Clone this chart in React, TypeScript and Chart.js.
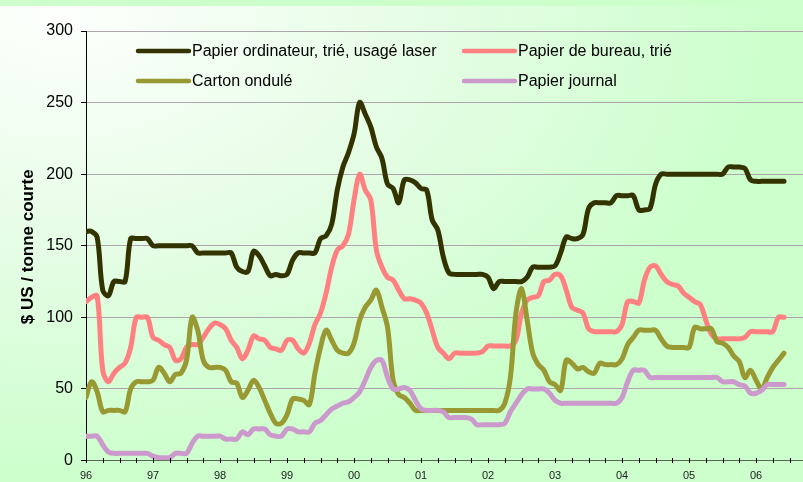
import React, { useEffect, useRef } from "react";
import { Chart, registerables } from "chart.js";

Chart.register(...registerables);

// Monthly values, Jan 1996 .. Jun 2006 (index = months since Jan 1996)
const papierOrdinateur = [
  160, 160, 156, 119, 115, 125, 125, 125, 155, 155,
  155, 155, 150, 150, 150, 150, 150, 150, 150, 150,
  145, 145, 145, 145, 145, 145, 145, 135, 132, 132,
  146, 143, 136, 129, 130, 129, 130, 140, 145, 145,
  145, 145, 155, 157, 165, 189, 205, 215, 228, 250,
  242, 233, 219, 211, 193, 190, 180, 196, 196, 194,
  190, 189, 168, 161, 142, 131, 130, 130, 130, 130,
  130, 130, 128, 120, 125, 125, 125, 125, 125, 128,
  135, 135, 135, 135, 136, 145, 156, 155, 155, 158,
  176, 180, 180, 180, 180, 185, 185, 185, 185, 175,
  175, 176, 193, 200, 200, 200, 200, 200, 200, 200,
  200, 200, 200, 200, 200, 205, 205, 205, 204, 196,
  195, 195, 195, 195, 195, 195,
];

const papierBureau = [
  111, 114, 115, 63, 55, 61, 65, 68, 79, 100,
  100, 100, 86, 84, 81, 79, 70, 71, 79, 81,
  81, 86, 92, 96, 95, 92, 84, 79, 71, 77,
  87, 85, 84, 79, 78, 77, 84, 84, 78, 75,
  82, 95, 103, 117, 135, 147, 150, 158, 182, 200,
  189, 182, 147, 135, 128, 126, 119, 113, 113, 112,
  110, 103, 91, 79, 75, 71, 75, 75, 75, 75,
  75, 76, 80, 80, 80, 80, 80, 84, 103, 112,
  114, 115, 125, 126, 130, 129, 119, 107, 105, 103,
  92, 90, 90, 90, 90, 90, 95, 111, 111, 110,
  126, 135, 136, 130, 125, 123, 122, 117, 114, 111,
  109, 98, 88, 85, 85, 85, 85, 85, 86, 90,
  90, 90, 90, 90, 100, 100,
];

const cartonOndule = [
  44, 55, 48, 34, 35, 35, 35, 34, 50, 55,
  55, 55, 56, 65, 61, 55, 60, 61, 70, 100,
  91, 70, 65, 65, 65, 63, 55, 54, 44, 49,
  56, 51, 42, 33, 26, 26, 32, 43, 43, 42,
  39, 61, 79, 91, 84, 77, 75, 75, 82, 98,
  107, 112, 119, 107, 93, 56, 46, 44, 40, 35,
  35, 35, 35, 35, 35, 35, 35, 35, 35, 35,
  35, 35, 35, 35, 35, 40, 58, 103, 120, 98,
  75, 67, 63, 55, 53, 49, 70, 68, 64, 65,
  62, 61, 68, 67, 67, 67, 71, 81, 86, 91,
  91, 91, 91, 85, 80, 79, 79, 79, 79, 93,
  92, 92, 92, 83, 82, 79, 73, 69, 58, 63,
  56, 50, 58, 65, 70, 75,
];

const papierJournal = [
  17, 17, 17, 11, 6, 5, 5, 5, 5, 5,
  5, 5, 3, 2, 2, 2, 5, 5, 5, 12,
  17, 17, 17, 17, 17, 15, 15, 15, 20, 18,
  22, 22, 22, 18, 17, 17, 22, 22, 20, 20,
  20, 26, 28, 32, 36, 38, 40, 41, 44, 48,
  56, 65, 70, 70, 58, 50, 50, 51, 49, 42,
  36, 35, 35, 35, 34, 30, 30, 30, 30, 29,
  25, 25, 25, 25, 25, 26, 34, 40, 46, 50,
  50, 50, 50, 47, 42, 40, 40, 40, 40, 40,
  40, 40, 40, 40, 40, 40, 44, 55, 63, 63,
  63, 58, 58, 58, 58, 58, 58, 58, 58, 58,
  58, 58, 58, 58, 55, 55, 55, 53, 52, 47,
  47, 49, 53, 53, 53, 53,
];

const seriesNames = [
  "Papier ordinateur, trié, usagé laser",
  "Papier de bureau, trié",
  "Carton ondulé",
  "Papier journal",
];
const seriesColors = ["#333300", "#ff8080", "#999933", "#cc99cc"];
const yTitle = "$ US / tonne courte";
const firstYear = 1996;

const W = 803;
const H = 482;
const FONT = "'Liberation Sans', Arial, sans-serif";
const NARROW = "'Liberation Sans Narrow', 'Arial Narrow', 'Liberation Sans', Arial, sans-serif";

const toPoints = (arr: number[]) => arr.map((v, i) => ({ x: i, y: v }));

const decorPlugin = {
  id: "decor",
  afterDraw(chart: any) {
    const { ctx, scales } = chart;
    const xs = scales.x;
    const ys = scales.y;
    ctx.save();
    // quarterly tick marks crossing the x axis
    const y0 = ys.getPixelForValue(0);
    ctx.strokeStyle = "#000000";
    ctx.lineWidth = 1;
    for (let v = 0; v <= xs.max; v += 3) {
      const px = Math.round(xs.getPixelForValue(v)) + 0.5;
      ctx.beginPath();
      ctx.moveTo(px, y0 - 2.5);
      ctx.lineTo(px, y0 + 2.5);
      ctx.stroke();
    }
    // y axis title
    ctx.translate(28, (chart.chartArea.top + chart.chartArea.bottom) / 2 + 1);
    ctx.rotate(-Math.PI / 2);
    ctx.font = `bold 17px ${FONT}`;
    ctx.fillStyle = "#000000";
    ctx.textAlign = "center";
    ctx.textBaseline = "middle";
    ctx.fillText(yTitle, 0, 0);
    ctx.restore();

    // legend (two columns, two rows)
    ctx.save();
    const cols = [136, 462];
    const rows = [51, 81];
    ctx.font = `16px ${FONT}`;
    ctx.textBaseline = "middle";
    ctx.textAlign = "left";
    seriesNames.forEach((name, i) => {
      const cx = cols[i % 2];
      const cy = rows[Math.floor(i / 2)];
      ctx.strokeStyle = seriesColors[i];
      ctx.lineWidth = 4.5;
      ctx.lineCap = "round";
      ctx.beginPath();
      ctx.moveTo(cx + 2, cy);
      ctx.lineTo(cx + 53, cy);
      ctx.stroke();
      ctx.fillStyle = "#000000";
      ctx.fillText(name, cx + 56, cy + 1);
    });
    ctx.restore();
  },
};

export default function App() {
  const ref = useRef<HTMLCanvasElement | null>(null);

  useEffect(() => {
    document.body.style.margin = "0";
    document.body.style.overflow = "hidden";
    if (!ref.current) return;
    const allSeries = [papierOrdinateur, papierBureau, cartonOndule, papierJournal];
    const chart = new Chart(ref.current, {
      type: "line",
      data: {
        datasets: allSeries.map((s, i) => ({
          label: seriesNames[i],
          data: toPoints(s),
          borderColor: seriesColors[i],
          backgroundColor: seriesColors[i],
          borderWidth: 5,
          pointRadius: 0,
          tension: 0.35,
          fill: false,
          borderCapStyle: "round",
          borderJoinStyle: "round",
          order: 4 - i,
        })),
      },
      options: {
        animation: false,
        responsive: false,
        devicePixelRatio: 1,
        layout: { padding: { top: 31, left: 0, right: 0, bottom: 0 } },
        plugins: {
          legend: { display: false },
          tooltip: { enabled: false },
        },
        scales: {
          x: {
            type: "linear",
            min: 0,
            max: 128.4,
            afterFit: (scale: any) => {
              scale.height = 21.5;
            },
            grid: { display: false, drawTicks: false },
            border: { display: true, color: "#556655", width: 1 },
            ticks: {
              stepSize: 3,
              includeBounds: false,
              autoSkip: false,
              maxRotation: 0,
              padding: 9,
              color: "#222222",
              font: { family: NARROW, size: 11 },
              callback: (v: any) => {
                const n = Number(v);
                if (n % 12 !== 0) return "";
                const yr = (firstYear + n / 12) % 100;
                return yr < 10 ? "0" + yr : String(yr);
              },
            },
          },
          y: {
            min: 0,
            max: 300,
            afterFit: (scale: any) => {
              scale.width = 86;
            },
            grid: {
              color: "#aca6ac",
              lineWidth: 1,
              tickColor: "#000000",
              tickLength: 5,
            },
            border: { display: true, color: "#000000", width: 1 },
            ticks: {
              stepSize: 50,
              padding: 8,
              color: "#000000",
              font: { family: FONT, size: 16 },
            },
          },
        },
      },
      plugins: [decorPlugin],
    } as any);
    return () => chart.destroy();
  }, []);

  return (
    <div
      style={{
        position: "fixed",
        left: 0,
        top: 0,
        width: W,
        height: H,
        background:
          "linear-gradient(#ccffcc, #ccffcc) top left / 100% 6px no-repeat, radial-gradient(ellipse 800px 520px at 60px 10px, #fdfffd 0%, #e6fde6 45%, #ccffcc 90%)",
      }}
    >
      <canvas ref={ref} width={W} height={H} style={{ display: "block" }} />
    </div>
  );
}
